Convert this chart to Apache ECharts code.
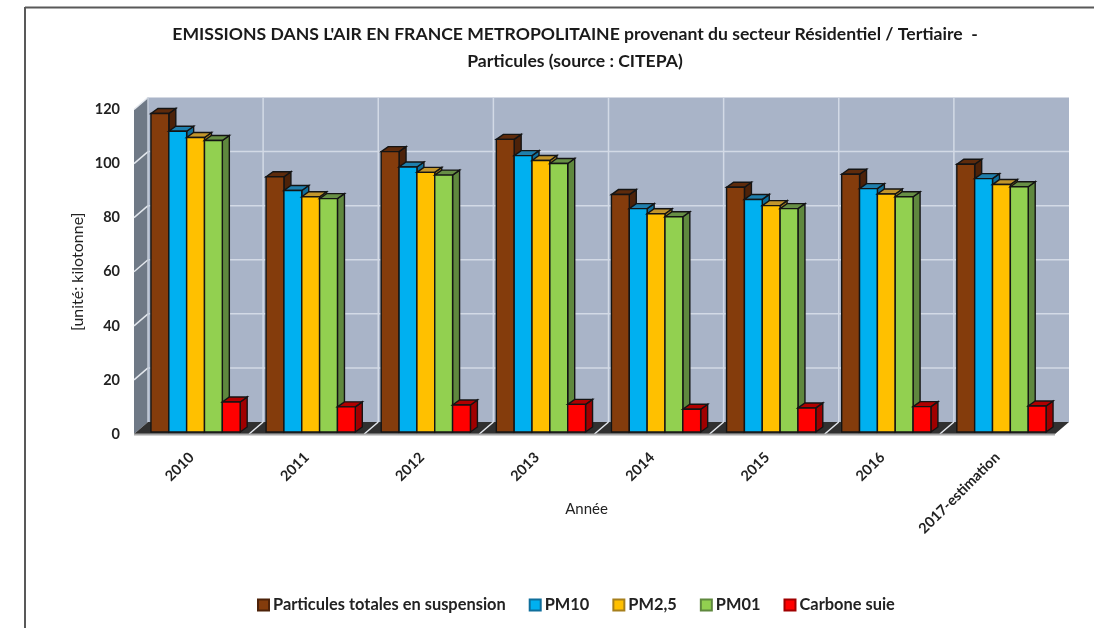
<!DOCTYPE html>
<html>
<head>
<meta charset="utf-8">
<title>Emissions particules</title>
<script src="https://cdn.jsdelivr.net/npm/echarts@6/dist/echarts.min.js"></script>
<style>
  html, body { margin: 0; padding: 0; background: #fff; }
  #chart { width: 1094px; height: 628px; }
</style>
</head>
<body>
<div id="chart"></div>
<script>
const years = ['2010', '2011', '2012', '2013', '2014', '2015', '2016', '2017-estimation']
const yTicks = [0, 20, 40, 60, 80, 100, 120]

// values (kilotonnes)
const particulesTotales = [117.8, 94.4, 103.7, 108.2, 87.8, 90.5, 95.3, 99]
const pm10 = [111.2, 89.3, 98, 102.2, 82.6, 86, 90, 93.7]
const pm25 = [108.9, 87, 96, 100.4, 80.7, 83.7, 88, 91.5]
const pm01 = [107.8, 86.3, 95, 99.3, 79.6, 82.6, 87, 90.7]
const carboneSuie = [11.1, 9.3, 10, 10.2, 8.4, 8.9, 9.4, 9.6]

// front, top and side colours of each 3D bar
const seriesDefs = [
  { name: 'Particules totales en suspension', data: particulesTotales, front: '#843c0c', top: '#5e2b0c', side: '#4d2209' },
  { name: 'PM10', data: pm10, front: '#00b0f0', top: '#1f7fad', side: '#0f6f9c' },
  { name: 'PM2,5', data: pm25, front: '#ffc000', top: '#c2962c', side: '#a67f1c' },
  { name: 'PM01', data: pm01, front: '#92d050', top: '#678f45', side: '#5f883e' },
  { name: 'Carbone suie', data: carboneSuie, front: '#ff0000', top: '#b00000', side: '#a00000' }
]

const FONT = 'Lato, "Open Sans", sans-serif'
const WALL_DX = 14
const WALL_DY = -12
const BAR_DX = 7
const BAR_DY = -5
const BAR_SHIFT = 4
const BAR_LIFT = -2
const OUTLINE = '#141414'

function poly(points, fill, stroke) {
  return {
    type: 'polygon',
    shape: { points },
    style: { fill, stroke: stroke || null, lineWidth: stroke ? 1.4 : 0 }
  }
}

function line(x1, y1, x2, y2, color, width) {
  return {
    type: 'line',
    shape: { x1, y1, x2, y2 },
    style: { stroke: color, lineWidth: width || 1.5 }
  }
}

// walls and floor of the 3D box, positioned from the axis scales
function renderWalls(params, api) {
  const left = api.coord([0, 0])[0] - api.size([1, 0])[0] / 2
  const band = api.size([1, 0])[0]
  const right = left + band * years.length
  const y0 = api.coord([0, 0])[1]
  const yMax = api.coord([0, 120])[1]
  const gridColor = '#d3dae6'
  const children = [
    poly([[left + WALL_DX, yMax + WALL_DY], [right + WALL_DX, yMax + WALL_DY], [right + WALL_DX, y0 + WALL_DY], [left + WALL_DX, y0 + WALL_DY]], '#a9b4c8'),
    poly([[left, yMax], [left + WALL_DX, yMax + WALL_DY], [left + WALL_DX, y0 + WALL_DY], [left, y0]], '#6f7986'),
    poly([[left, y0], [left + WALL_DX, y0 + WALL_DY], [right + WALL_DX, y0 + WALL_DY], [right, y0]], '#303030')
  ]
  yTicks.forEach(t => {
    if (t === 0) return
    const y = api.coord([0, t])[1]
    children.push(line(left, y, left + WALL_DX, y + WALL_DY, '#e4e8ee'))
    if (t < 120) children.push(line(left + WALL_DX, y + WALL_DY, right + WALL_DX, y + WALL_DY, gridColor))
  })
  years.forEach((_, i) => {
    if (i === 0) return
    const x = left + band * i
    children.push(line(x + WALL_DX, yMax + WALL_DY, x + WALL_DX, y0 + WALL_DY, gridColor))
    children.push(line(x, y0, x + WALL_DX, y0 + WALL_DY, '#e4e8ee'))
  })
  children.push(line(left + WALL_DX, yMax + WALL_DY, left + WALL_DX, y0 + WALL_DY, '#c4ccd8'))
  children.push(line(left, y0 + 0.5, right, y0 + 0.5, '#a8a8a8', 2))
  return { type: 'group', children, silent: true }
}

function makeBarRenderer(def, index) {
  return function (params, api) {
    const base = api.coord([api.value(0), 0])
    const head = api.coord([api.value(0), api.value(1)])
    const w = api.size([1, 0])[0] * 0.155
    const x0 = base[0] + BAR_SHIFT + (index - 2.5) * w
    const x1 = x0 + w
    const yb = base[1] + BAR_LIFT
    const yt = head[1] + BAR_LIFT
    return {
      type: 'group',
      children: [
        poly([[x1, yt], [x1 + BAR_DX, yt + BAR_DY], [x1 + BAR_DX, yb + BAR_DY], [x1, yb]], def.side, OUTLINE),
        poly([[x0, yt], [x0 + BAR_DX, yt + BAR_DY], [x1 + BAR_DX, yt + BAR_DY], [x1, yt]], def.top, OUTLINE),
        poly([[x0, yt], [x1, yt], [x1, yb], [x0, yb]], def.front, OUTLINE)
      ]
    }
  }
}

const chart = echarts.init(document.getElementById('chart'), null, { renderer: 'canvas' })

const series = [
  {
    name: 'walls',
    type: 'custom',
    renderItem: renderWalls,
    data: [[0, 0]],
    encode: { x: 0, y: 1 },
    silent: true,
    z: 1
  }
].concat(seriesDefs.map((def, i) => ({
  name: def.name,
  type: 'custom',
  renderItem: makeBarRenderer(def, i),
  data: def.data.map((v, j) => [j, v]),
  encode: { x: 0, y: 1 },
  itemStyle: { color: def.front, borderColor: def.side, borderWidth: 1.5 },
  z: 2 + i
})))

chart.setOption({
  animation: false,
  backgroundColor: '#fff',
  textStyle: { fontFamily: FONT },
  title: {
    text: "EMISSIONS DANS L'AIR EN FRANCE METROPOLITAINE provenant du secteur Résidentiel / Tertiaire  -\nParticules (source : CITEPA)",
    left: 570,
    top: 16,
    textAlign: 'center',
    textStyle: { fontFamily: FONT, fontSize: 17.6, fontWeight: 'bold', color: '#1a1a1a', lineHeight: 27 }
  },
  legend: {
    data: seriesDefs.map(d => d.name),
    left: 252,
    top: 592,
    icon: 'rect',
    itemWidth: 11,
    itemHeight: 11,
    itemGap: 23,
    textStyle: { fontFamily: FONT, fontSize: 16.4, fontWeight: 'bold', color: '#222', padding: [0, 0, 0, -1] }
  },
  grid: { left: 134, top: 109.5, width: 921, height: 324.5, containLabel: false },
  xAxis: {
    type: 'category',
    data: years,
    name: 'Année',
    nameLocation: 'middle',
    nameGap: 68,
    nameMoveOverlap: false,
    nameTextStyle: { fontFamily: FONT, fontSize: 15, color: '#222', padding: [0, 16, 0, 0] },
    axisLine: { show: false },
    axisTick: { show: false },
    axisLabel: { rotate: 45, margin: 21, interval: 0, fontFamily: FONT, fontSize: 14.5, fontWeight: 'bold', color: '#222' }
  },
  yAxis: {
    type: 'value',
    min: 0,
    max: 120,
    interval: 20,
    name: '[unité: kilotonne]',
    nameLocation: 'middle',
    nameGap: 48,
    nameMoveOverlap: false,
    nameTextStyle: { fontFamily: FONT, fontSize: 16, color: '#222' },
    axisLine: { show: false },
    axisTick: { show: false },
    splitLine: { show: false },
    axisLabel: { margin: 14, fontFamily: FONT, fontSize: 14.5, fontWeight: 'bold', color: '#222' }
  },
  series,
  // frame of the original picture: top and left edges only
  graphic: [
    { type: 'line', shape: { x1: 25, y1: 7.5, x2: 1094, y2: 7.5 }, style: { stroke: '#595959', lineWidth: 2 }, silent: true },
    { type: 'line', shape: { x1: 25, y1: 7, x2: 25, y2: 628 }, style: { stroke: '#595959', lineWidth: 2 }, silent: true }
  ]
})

window.addEventListener('resize', () => chart.resize())
</script>
</body>
</html>
